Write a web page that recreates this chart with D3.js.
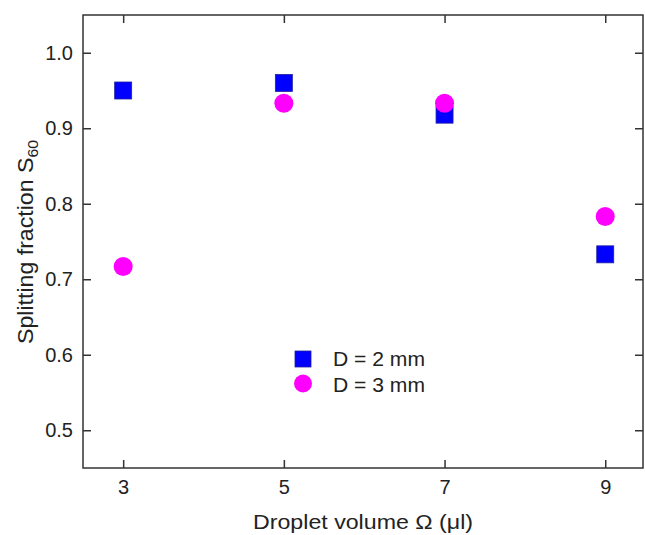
<!DOCTYPE html>
<meta charset="utf-8">
<script src="https://d3js.org/d3.v7.min.js"></script>
<style>
body { margin: 0; background: #fff; }
text { font-family: Arial, "Liberation Sans", sans-serif; fill: #222; }
</style>
<body>
<div id="chart"></div>
<script>
// data
var volumes = [3, 5, 7, 9];
var splitD2 = [0.950, 0.960, 0.918, 0.733];
var splitD3 = [0.717, 0.933, 0.933, 0.783];
var xTicks = [3, 5, 7, 9];
var yTicks = [0.5, 0.6, 0.7, 0.8, 0.9, 1.0];
var legendLabels = ["D = 2 mm", "D = 3 mm"];

var width = 645, height = 535;
var margin = {top: 15, right: 2, bottom: 67, left: 83};

var svg = d3.select("#chart").append("svg")
    .attr("width", width)
    .attr("height", height);

var x = d3.scaleLinear()
    .domain([2.5, 9.47])
    .range([margin.left, width - margin.right]);
var y = d3.scaleLinear()
    .domain([0.45, 1.05])
    .range([height - margin.bottom, margin.top]);

var x0 = x.range()[0], x1 = x.range()[1];
var y0 = y.range()[0], y1 = y.range()[1];

// frame
svg.append("rect")
    .attr("x", x0).attr("y", y1)
    .attr("width", x1 - x0).attr("height", y0 - y1)
    .attr("fill", "none")
    .attr("stroke", "#333")
    .attr("stroke-width", 1.5);

function styleTicks(g) {
  g.select(".domain").remove();
  g.selectAll("line").attr("stroke", "#333").attr("stroke-width", 1.5);
  g.selectAll("text").attr("font-size", null).style("font-size", "20px").attr("fill", "#222");
}

// axes, ticks point inward
svg.append("g")
    .attr("transform", "translate(0," + y0 + ")")
    .call(d3.axisBottom(x).tickValues(xTicks).tickSizeInner(-8).tickSizeOuter(0)
      .tickPadding(12).tickFormat(d3.format("d")))
    .call(styleTicks);
svg.append("g")
    .attr("transform", "translate(0," + y1 + ")")
    .call(d3.axisTop(x).tickValues(xTicks).tickSizeInner(-8).tickSizeOuter(0).tickFormat(""))
    .call(styleTicks);
svg.append("g")
    .attr("transform", "translate(" + x0 + ",0)")
    .call(d3.axisLeft(y).tickValues(yTicks).tickSizeInner(-8).tickSizeOuter(0)
      .tickPadding(10).tickFormat(d3.format(".1f")))
    .call(styleTicks);
svg.append("g")
    .attr("transform", "translate(" + x1 + ",0)")
    .call(d3.axisRight(y).tickValues(yTicks).tickSizeInner(-8).tickSizeOuter(0).tickFormat(""))
    .call(styleTicks);

// axis titles
svg.append("text")
    .attr("x", 363).attr("y", 529)
    .attr("text-anchor", "middle")
    .attr("textLength", 220)
    .attr("lengthAdjust", "spacingAndGlyphs")
    .style("font-size", "20px")
    .text("Droplet volume \u03A9 (\u03BCl)");

var yl = svg.append("text")
    .attr("transform", "translate(33,242) rotate(-90)")
    .attr("text-anchor", "middle")
    .attr("textLength", 204)
    .attr("lengthAdjust", "spacingAndGlyphs")
    .style("font-size", "22px");
yl.append("tspan").text("Splitting fraction S");
yl.append("tspan").attr("dy", 5).style("font-size", "15px").text("60");

// markers
var sq = 17;
svg.selectAll(".sq")
    .data(volumes)
    .enter().append("rect")
    .attr("x", function(d) { return x(d) - sq / 2; })
    .attr("y", function(d, i) { return y(splitD2[i]) - sq / 2; })
    .attr("width", sq).attr("height", sq)
    .attr("fill", "#0000ff")
    .attr("stroke", "#2020a0")
    .attr("stroke-width", 0.8);

svg.selectAll(".ci")
    .data(volumes)
    .enter().append("circle")
    .attr("cx", function(d) { return x(d); })
    .attr("cy", function(d, i) { return y(splitD3[i]); })
    .attr("r", 9.5)
    .attr("fill", "#ff00ff");

// legend
var lg = svg.append("g");
lg.append("rect")
    .attr("x", 295).attr("y", 351)
    .attr("width", 16).attr("height", 16)
    .attr("fill", "#0000ff")
    .attr("stroke", "#2020a0")
    .attr("stroke-width", 0.8);
lg.append("circle")
    .attr("cx", 303).attr("cy", 383.5)
    .attr("r", 9)
    .attr("fill", "#ff00ff");
lg.selectAll("text")
    .data(legendLabels)
    .enter().append("text")
    .attr("x", 333)
    .attr("y", function(d, i) { return 366 + i * 25.5; })
    .attr("textLength", 92)
    .attr("lengthAdjust", "spacingAndGlyphs")
    .style("font-size", "20px")
    .text(function(d) { return d; });
</script>
</body>
